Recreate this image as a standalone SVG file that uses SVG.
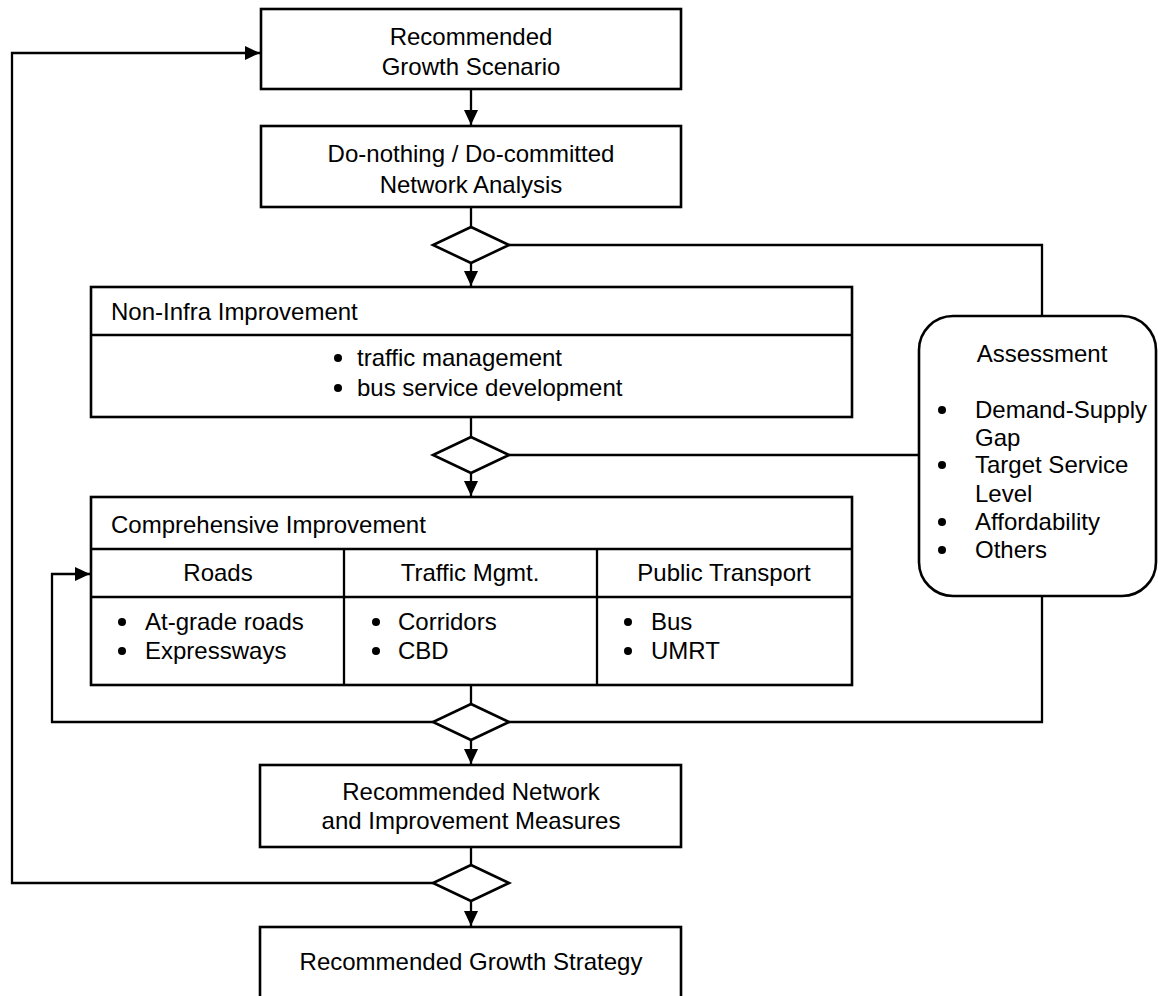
<svg xmlns="http://www.w3.org/2000/svg" width="1158" height="996" viewBox="0 0 1158 996">
<style>
.box{fill:#fff;stroke:#000;stroke-width:2.6}
.ln{fill:none;stroke:#000;stroke-width:2.3}
.dia{fill:#fff;stroke:#000;stroke-width:2.6}
text{font-family:"Liberation Sans",Arial,sans-serif;font-size:24px;fill:#000}
.c{text-anchor:middle}
</style>
<defs>
<marker id="ah" markerUnits="userSpaceOnUse" markerWidth="16" markerHeight="14" refX="15" refY="7" orient="auto">
<path d="M0,0 L15,7 L0,14 Z" fill="#000"/>
</marker>
</defs>
<g id="connectors">
<path class="ln" d="M471,89 V125" marker-end="url(#ah)"/>
<path class="ln" d="M471,207 V227"/>
<path class="ln" d="M471,263 V286" marker-end="url(#ah)"/>
<path class="ln" d="M509,245 H1042 V316"/>
<path class="ln" d="M471,417 V437"/>
<path class="ln" d="M471,473 V496" marker-end="url(#ah)"/>
<path class="ln" d="M509,455 H919"/>
<path class="ln" d="M471,685 V704"/>
<path class="ln" d="M471,740 V764" marker-end="url(#ah)"/>
<path class="ln" d="M433,722 H52 V574 H90" marker-end="url(#ah)"/>
<path class="ln" d="M509,722 H1042 V596"/>
<path class="ln" d="M471,847 V865"/>
<path class="ln" d="M471,901 V926" marker-end="url(#ah)"/>
<path class="ln" d="M433,883 H12 V53 H260" marker-end="url(#ah)"/>
</g>
<g id="d1"><path class="dia" d="M471,227 L509,245 L471,263 L433,245 Z"/></g>
<g id="d2"><path class="dia" d="M471,437 L509,455 L471,473 L433,455 Z"/></g>
<g id="d3"><path class="dia" d="M471,704 L509,722 L471,740 L433,722 Z"/></g>
<g id="d4"><path class="dia" d="M471,865 L509,883 L471,901 L433,883 Z"/></g>
<g id="scenario">
<rect class="box" x="261" y="9" width="420" height="80"/>
<text class="c" x="471" y="45">Recommended</text>
<text class="c" x="471" y="75">Growth Scenario</text>
</g>
<g id="donothing">
<rect class="box" x="261" y="126" width="420" height="81"/>
<text class="c" x="471" y="162">Do-nothing / Do-committed</text>
<text class="c" x="471" y="193">Network Analysis</text>
</g>
<g id="noninfra">
<rect class="box" x="91" y="287" width="761" height="130"/>
<path class="ln" d="M91,335 H852"/>
<text x="111" y="320">Non-Infra Improvement</text>
<circle cx="338" cy="358" r="4"/>
<text x="357" y="366">traffic management</text>
<circle cx="338" cy="388" r="4"/>
<text x="357" y="396">bus service development</text>
</g>
<g id="comprehensive">
<rect class="box" x="91" y="497" width="761" height="188"/>
<path class="ln" d="M91,549 H852 M91,597 H852 M344,549 V685 M597,549 V685"/>
<text x="111" y="533">Comprehensive Improvement</text>
<text class="c" x="218" y="581">Roads</text>
<text class="c" x="470" y="581">Traffic Mgmt.</text>
<text class="c" x="724" y="581">Public Transport</text>
<circle cx="122" cy="622" r="4"/>
<text x="145" y="630">At-grade roads</text>
<circle cx="122" cy="651" r="4"/>
<text x="145" y="659">Expressways</text>
<circle cx="376" cy="622" r="4"/>
<text x="398" y="630">Corridors</text>
<circle cx="376" cy="651" r="4"/>
<text x="398" y="659">CBD</text>
<circle cx="628" cy="622" r="4"/>
<text x="651" y="630">Bus</text>
<circle cx="628" cy="651" r="4"/>
<text x="651" y="659">UMRT</text>
</g>
<g id="assessment">
<rect class="box" x="919" y="316" width="237" height="280" rx="34" ry="34"/>
<text class="c" x="1042" y="362">Assessment</text>
<circle cx="942" cy="410" r="4"/>
<text x="975" y="418">Demand-Supply</text>
<text x="975" y="446">Gap</text>
<circle cx="942" cy="465" r="4"/>
<text x="975" y="473">Target Service</text>
<text x="975" y="502">Level</text>
<circle cx="942" cy="522" r="4"/>
<text x="975" y="530">Affordability</text>
<circle cx="942" cy="550" r="4"/>
<text x="975" y="558">Others</text>
</g>
<g id="network">
<rect class="box" x="260" y="765" width="421" height="82"/>
<text class="c" x="471" y="800">Recommended Network</text>
<text class="c" x="471" y="829">and Improvement Measures</text>
</g>
<g id="strategy">
<rect class="box" x="260" y="927" width="421" height="80"/>
<text class="c" x="471" y="970">Recommended Growth Strategy</text>
</g>
</svg>
